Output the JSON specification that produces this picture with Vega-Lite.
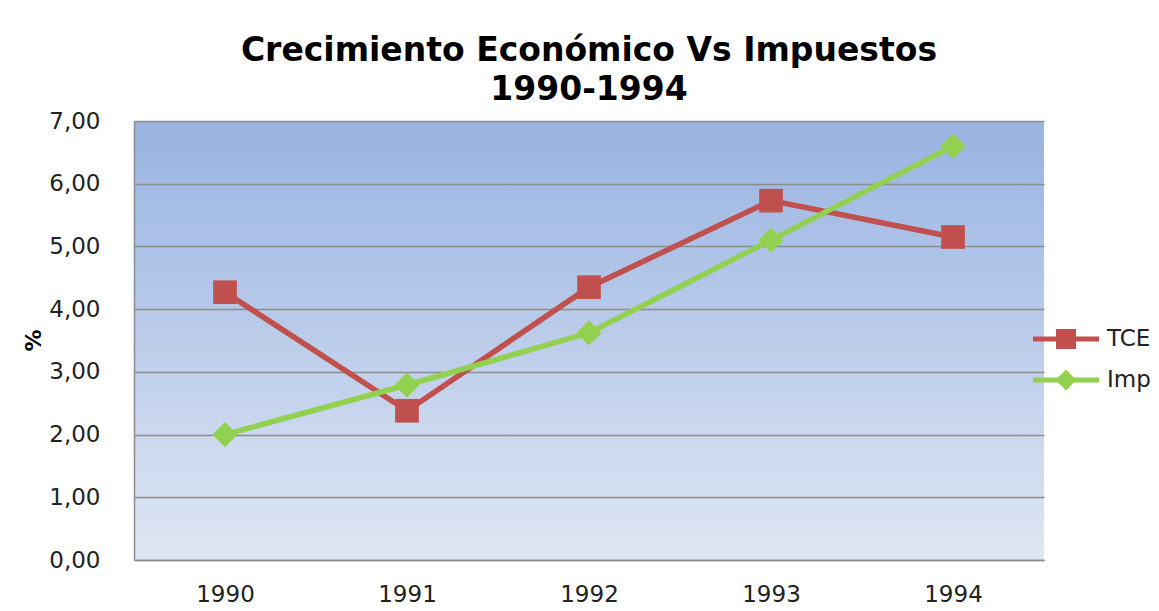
{
  "$schema": "https://vega.github.io/schema/vega-lite/v6.json",
  "width": 910,
  "height": 439,
  "autosize": "none",
  "padding": {"left": 134, "top": 121, "right": 115, "bottom": 51},
  "background": "white",
  "title": {
    "text": ["Crecimiento Económico Vs Impuestos", "1990-1994"],
    "font": "DejaVu Sans",
    "fontSize": 33,
    "fontWeight": "bold",
    "lineHeight": 39,
    "anchor": "middle",
    "frame": "group",
    "offset": 3,
    "color": "#000000"
  },
  "data": {
    "values": [
      {"year": "1990", "series": "TCE", "value": 4.27},
      {"year": "1991", "series": "TCE", "value": 2.38},
      {"year": "1992", "series": "TCE", "value": 4.35},
      {"year": "1993", "series": "TCE", "value": 5.73},
      {"year": "1994", "series": "TCE", "value": 5.15},
      {"year": "1990", "series": "Imp", "value": 2.0},
      {"year": "1991", "series": "Imp", "value": 2.79},
      {"year": "1992", "series": "Imp", "value": 3.62},
      {"year": "1993", "series": "Imp", "value": 5.1},
      {"year": "1994", "series": "Imp", "value": 6.6}
    ]
  },
  "config": {
    "view": {
      "stroke": null,
      "fill": {
        "gradient": "linear",
        "x1": 0, "y1": 0, "x2": 0, "y2": 1,
        "stops": [
          {"offset": 0, "color": "#98b3e1"},
          {"offset": 1, "color": "#dfe6f3"}
        ]
      }
    },
    "axis": {
      "labelFont": "DejaVu Sans",
      "labelFontSize": 23,
      "labelColor": "#222222",
      "titleFont": "DejaVu Sans",
      "domainColor": "#8c8c8c",
      "domainWidth": 1.5,
      "gridColor": "#8c8c8c",
      "gridWidth": 1.5
    }
  },
  "layer": [
    {
      "mark": {"type": "line", "strokeWidth": 5.5},
      "encoding": {
        "x": {
          "field": "year", "type": "ordinal",
          "scale": {"type": "point", "padding": 0.5},
          "sort": ["1990", "1991", "1992", "1993", "1994"],
          "axis": {
            "title": null, "labelAngle": 0, "ticks": false, "tickSize": 0,
            "labelPadding": 23, "grid": false
          }
        },
        "y": {
          "field": "value", "type": "quantitative",
          "scale": {"domain": [0, 7], "nice": false, "zero": true},
          "axis": {
            "title": "%",
            "titleFontSize": 22,
            "titleFontWeight": "bold",
            "titleColor": "#000000",
            "titleAngle": -90,
            "titleX": -101,
            "titleY": 219,
            "titleAlign": "center",
            "titleBaseline": "middle",
            "values": [0, 1, 2, 3, 4, 5, 6, 7],
            "labelExpr": "replace(format(datum.value, '.2f'), '.', ',')",
            "ticks": false,
            "tickSize": 0,
            "labelPadding": 34,
            "grid": true
          }
        },
        "color": {
          "field": "series", "type": "nominal",
          "sort": ["TCE", "Imp"],
          "scale": {"domain": ["TCE", "Imp"], "range": ["#c0504d", "#92d050"]},
          "legend": {
            "title": null,
            "orient": "none",
            "legendX": 912,
            "legendY": 198,
            "padding": 0,
            "symbolSize": 1600,
            "labelOffset": 21,
            "rowPadding": 9,
            "labelFont": "DejaVu Sans",
            "labelFontSize": 23,
            "labelColor": "#222222",
            "encode": {
              "symbols": {
                "update": {
                  "shape": {"signal": "datum.value === 'TCE' ? 'M-1.65,-0.125H1.65V0.125H-1.65Z M-0.5,-0.5H0.5V0.5H-0.5Z' : 'M-1.65,-0.125H1.65V0.125H-1.65Z M0,-0.52L0.52,0L0,0.52L-0.52,0Z'"},
                  "fill": {"signal": "datum.value === 'TCE' ? '#c0504d' : '#92d050'"},
                  "fillOpacity": {"value": 1},
                  "opacity": {"value": 1},
                  "strokeWidth": {"value": 0},
                  "size": {"value": 1600}
                }
              }
            }
          }
        }
      }
    },
    {
      "transform": [{"filter": "datum.series === 'TCE'"}],
      "mark": {"type": "point", "filled": true, "opacity": 1, "shape": "square", "size": 560, "color": "#c0504d"},
      "encoding": {
        "x": {"field": "year", "type": "ordinal", "sort": ["1990", "1991", "1992", "1993", "1994"]},
        "y": {"field": "value", "type": "quantitative"}
      }
    },
    {
      "transform": [{"filter": "datum.series === 'Imp'"}],
      "mark": {"type": "point", "filled": true, "opacity": 1, "shape": "diamond", "size": 640, "color": "#92d050"},
      "encoding": {
        "x": {"field": "year", "type": "ordinal", "sort": ["1990", "1991", "1992", "1993", "1994"]},
        "y": {"field": "value", "type": "quantitative"}
      }
    }
  ]
}
